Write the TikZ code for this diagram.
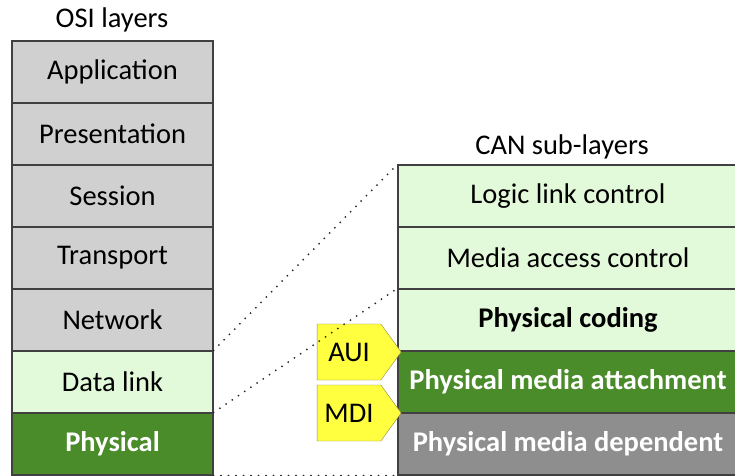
\documentclass[tikz,border=0pt]{standalone}
\usepackage{fontspec}
\setmainfont{Carlito}
\usetikzlibrary{shapes.symbols}
\definecolor{osigray}{HTML}{D0D0D0}
\definecolor{lightgreen}{HTML}{E3FADA}
\definecolor{darkgreen}{HTML}{4A8C2A}
\definecolor{darkgray}{HTML}{8E8E8E}
\definecolor{auiyellow}{HTML}{FFFF40}
\begin{document}
\begin{tikzpicture}[x=1pt, y=-1pt]
\tikzset{
  osibox/.style={draw=black!75, line width=1.2pt, minimum width=201pt, minimum height=62pt,
    inner sep=0pt, font=\fontsize{28.5}{32}\selectfont},
  canbox/.style={osibox, minimum width=340pt},
  strong/.style={font=\fontsize{28.5}{32}\selectfont\bfseries},
  iface/.style={shape=signal, signal to=east, signal pointer angle=108, draw=yellow!50!black,
    fill=auiyellow, minimum width=84pt, minimum height=56pt, inner sep=0pt,
    font=\fontsize{28.5}{32}\selectfont},
  zoomline/.style={dash pattern=on 0pt off 7.5pt, line cap=round, line width=2pt, black!85}
}
\useasboundingbox (0,0) rectangle (735,475);
% OSI stack
\node at (112,20) [font=\fontsize{28.5}{32}\selectfont] (osititle) {OSI layers};
\node [osibox, fill=osigray] (app) at (112.5,72) {Application};
\node [osibox, fill=osigray] (pres) at (112.5,134) {Presentation};
\node [osibox, fill=osigray] (sess) at (112.5,196) {Session};
\node [osibox, fill=osigray] (trans) at (112.5,258) {Transport};
\node [osibox, fill=osigray] (net) at (112.5,320) {Network};
\node [osibox, fill=lightgreen] (dlink) at (112.5,382) {Data link};
\node [osibox, fill=darkgreen, strong, text=white] (phys) at (112.5,444) {Physical};
% CAN stack
\node at (562,147) [font=\fontsize{28.5}{32}\selectfont] (cantitle) {CAN sub-layers};
\node [canbox, fill=lightgreen] (llc) at (568,196) {Logic link control};
\node [canbox, fill=lightgreen] (mac) at (568,258) {Media access control};
\node [canbox, fill=lightgreen, strong] (pcs) at (568,320) {Physical coding};
\node [canbox, fill=darkgreen, strong, text=white] (pma) at (568,382) {Physical media attachment};
\node [canbox, fill=darkgray, strong, text=white] (pmd) at (568,444) {Physical media dependent};
% interfaces
\node [iface] (aui) at (349,352) {AUI};
\node [iface] (mdi) at (349,413) {MDI};
% zoom lines
\draw [zoomline] (dlink.north east) -- (llc.north west);
\draw [zoomline] (phys.north east) -- (pcs.north west);
\draw [zoomline] (phys.south east) -- (pmd.south west);
\end{tikzpicture}
\end{document}
